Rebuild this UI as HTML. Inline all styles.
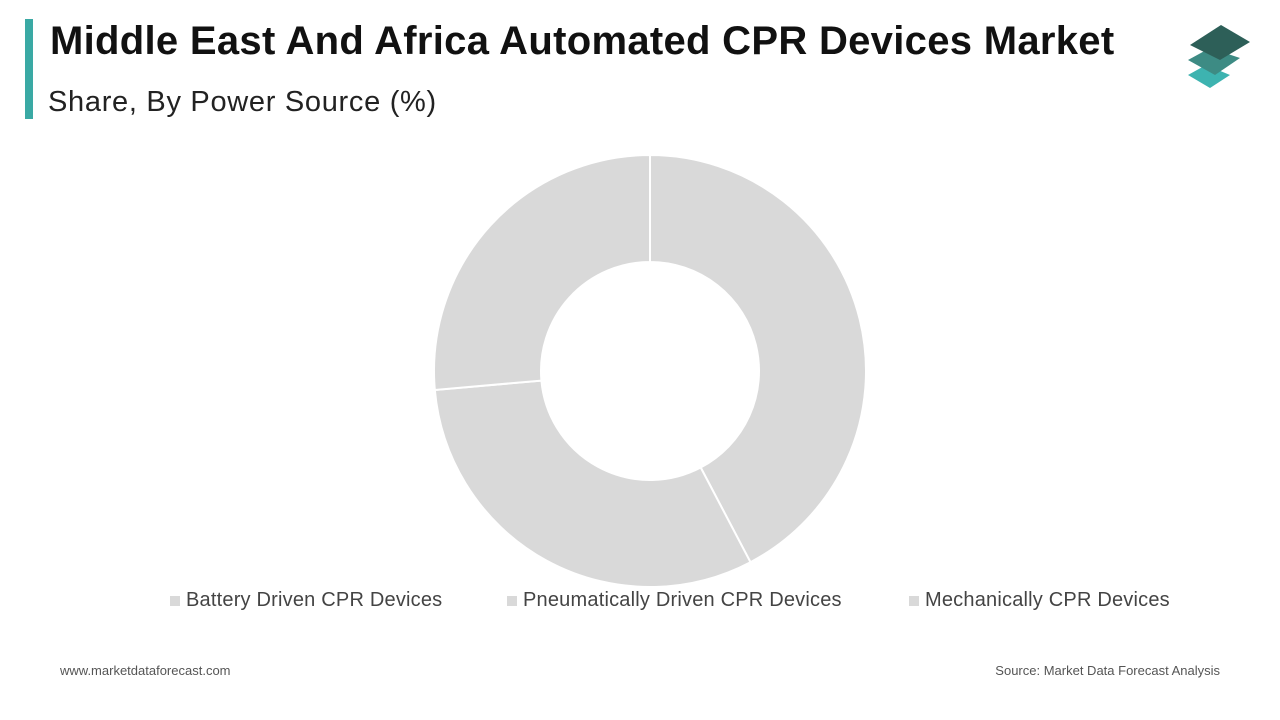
<!DOCTYPE html>
<html><head><meta charset="utf-8"><style>
body{margin:0;width:1280px;height:720px;background:#fff;font-family:"Liberation Sans",sans-serif;position:relative;overflow:hidden}
.t{position:absolute;left:50px;top:19px;font-size:40px;font-weight:bold;color:#111;letter-spacing:0.3px}
.s{position:absolute;left:48px;top:86px;font-size:29px;color:#222;letter-spacing:0.7px}
.bar{position:absolute;left:25px;top:19px;width:8px;height:100px;background:#3aa9a4}
.lg{position:absolute;top:589px;font-size:20px;color:#444;letter-spacing:0.2px}
.lg i{display:inline-block;width:10px;height:10px;background:#d9d9d9;margin-right:6px}
.f{position:absolute;top:663px;font-size:13px;color:#555}
</style></head><body>
<div class="bar"></div>
<div class="t">Middle East And Africa Automated CPR Devices Market</div>
<div class="s">Share, By Power Source (%)</div>
<svg style="position:absolute;left:1170px;top:15px" width="100" height="85">
<polygon points="18,60 36,50 60,60 40,73" fill="#3db3b0"/>
<polygon points="18,45 40,33 70,43 45,60" fill="#3d8b84"/>
<polygon points="20,30 51,10 80,27 50,45" fill="#2d5f58"/>
</svg>
<svg id="c" width="1280" height="720" style="position:absolute;left:0;top:0"></svg>
<div class="lg" style="left:170px"><i></i>Battery Driven CPR Devices</div>
<div class="lg" style="left:507px"><i></i>Pneumatically Driven CPR Devices</div>
<div class="lg" style="left:909px"><i></i>Mechanically CPR Devices</div>
<div class="f" style="left:60px">www.marketdataforecast.com</div>
<div class="f" style="right:60px">Source: Market Data Forecast Analysis</div>
<script>
const categories=["Battery Driven CPR Devices","Pneumatically Driven CPR Devices","Mechanically CPR Devices"];
const values=[42.3,31.3,26.4];
const cx=650,cy=371,R=216,r=109;
const svg=document.getElementById('c');
const tot=values.reduce((a,b)=>a+b,0);
let a0=0;
function pt(a,rad){return [cx+rad*Math.sin(a),cy-rad*Math.cos(a)];}
values.forEach((v,i)=>{
  const a1=a0+v/tot*2*Math.PI;const lg=(a1-a0)>Math.PI?1:0;
  const p1=pt(a0,R),p2=pt(a1,R),p3=pt(a1,r),p4=pt(a0,r);
  const p=document.createElementNS('http://www.w3.org/2000/svg','path');
  p.setAttribute('d',`M${p1}A${R},${R} 0 ${lg} 1 ${p2}L${p3}A${r},${r} 0 ${lg} 0 ${p4}Z`);
  p.setAttribute('fill','#d9d9d9');p.setAttribute('stroke','#fff');p.setAttribute('stroke-width','2');
  
  
  svg.appendChild(p);a0=a1;
});
</script>
</body></html>
